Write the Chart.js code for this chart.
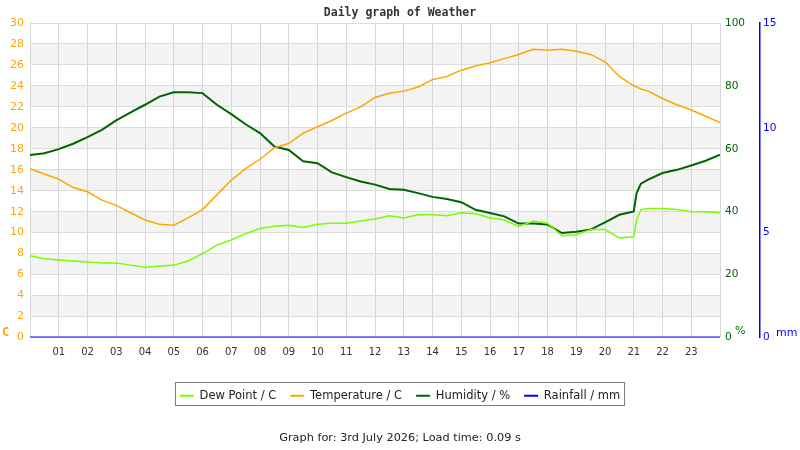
<!DOCTYPE html>
<html lang="en">
<head>
<meta charset="utf-8">
<title>Daily graph of Weather</title>
<script src="https://cdn.jsdelivr.net/npm/chart.js@4.4.1/dist/chart.umd.min.js"></script>
<style>
    html, body { margin: 0; padding: 0; background: #fff; }
    #wrap { width: 800px; height: 450px; }
</style>
</head>
<body>
<div id="wrap"><canvas id="weatherChart"></canvas></div>
<script>
// Hours of the day (x) and readings
const times = [0, 0.5, 1, 1.5, 2, 2.5, 3, 3.5, 4, 4.5, 5, 5.5, 6, 6.5, 7, 7.5, 8, 8.5, 9, 9.5,
    10, 10.5, 11, 11.5, 12, 12.5, 13, 13.5, 14, 14.5, 15, 15.5, 16, 16.5, 17, 17.5, 18, 18.5, 19, 19.5,
    20, 20.5, 21, 21.1, 21.25, 21.5, 22, 22.5, 23, 23.5, 24];
const dewPoint = [7.8, 7.5, 7.4, 7.3, 7.2, 7.1, 7.1, 6.9, 6.7, 6.8, 6.9, 7.3, 8.0, 8.8, 9.3, 9.9, 10.4, 10.6, 10.7, 10.5,
    10.8, 10.9, 10.9, 11.1, 11.3, 11.6, 11.4, 11.7, 11.7, 11.6, 11.9, 11.8, 11.4, 11.2, 10.6, 11.1, 10.9, 9.7, 9.8, 10.3,
    10.3, 9.5, 9.6, 11.2, 12.2, 12.3, 12.3, 12.2, 12.0, 12.0, 11.9];
const temperature = [16.1, 15.6, 15.1, 14.3, 13.9, 13.1, 12.6, 11.9, 11.2, 10.8, 10.7, 11.4, 12.2, 13.6, 15.0, 16.1, 17.0, 18.1, 18.5, 19.5,
    20.1, 20.7, 21.4, 22.0, 22.9, 23.3, 23.5, 23.9, 24.6, 24.9, 25.5, 25.9, 26.2, 26.6, 27.0, 27.5, 27.4, 27.5, 27.3, 27.0,
    26.3, 24.9, 24.0, 23.9, 23.7, 23.5, 22.8, 22.2, 21.7, 21.1, 20.5];
const humidity = [58.0, 58.6, 59.9, 61.6, 63.7, 66.0, 69.0, 71.6, 74.0, 76.6, 78.0, 78.0, 77.7, 74.0, 71.0, 67.8, 65.0, 60.7, 59.6, 56.0,
    55.4, 52.5, 51.0, 49.6, 48.6, 47.2, 47.0, 45.9, 44.7, 44.0, 43.0, 40.6, 39.6, 38.5, 36.2, 36.2, 35.9, 33.2, 33.6, 34.3,
    36.6, 39.0, 40.1, 45.9, 48.9, 50.2, 52.3, 53.3, 54.7, 56.2, 58.1];
const rainfall = [0, 0, 0, 0, 0, 0, 0, 0, 0, 0, 0, 0, 0, 0, 0, 0, 0, 0, 0, 0,
    0, 0, 0, 0, 0, 0, 0, 0, 0, 0, 0, 0, 0, 0, 0, 0, 0, 0, 0, 0,
    0, 0, 0, 0, 0, 0, 0, 0, 0, 0, 0];

const ORANGE = '#FFA500';
const DKGREEN = '#006400';
const LTGREEN = '#7CFC00';
const BLUE = '#0000FF';

Chart.defaults.font.family = '"DejaVu Sans", sans-serif';

// Grey stripes every other 2 C band
const bandsPlugin = {
    id: 'bands',
    beforeDraw(chart) {
        const { ctx, chartArea: a, scales: { y } } = chart;
        ctx.save();
        ctx.fillStyle = '#f3f3f3';
        for (let v = 2; v < 30; v += 4) {
            const top = y.getPixelForValue(v + 2);
            const bot = y.getPixelForValue(v);
            ctx.fillRect(a.left, top, a.right - a.left, bot - top);
        }
        ctx.restore();
    }
};

// Unit labels next to the axes and frame round the legend
const extrasPlugin = {
    id: 'extras',
    afterDraw(chart) {
        const { ctx, scales } = chart;
        const base = scales.y.bottom;
        ctx.save();
        ctx.textBaseline = 'middle';
        ctx.textAlign = 'left';
        ctx.font = 'bold 12px "DejaVu Sans Mono"';
        ctx.fillStyle = ORANGE;
        ctx.fillText('C', 2, base - 5);
        ctx.font = '11px "DejaVu Sans"';
        ctx.fillStyle = DKGREEN;
        ctx.fillText('%', scales.hum.left + 15, base - 6);
        ctx.fillStyle = BLUE;
        ctx.fillText('mm', scales.rain.left + 16, base - 4);

        const boxes = chart.legend.legendHitBoxes;
        if (boxes && boxes.length) {
            const l = Math.min(...boxes.map(b => b.left)) - 5;
            const r = Math.max(...boxes.map(b => b.left + b.width)) + 4;
            const t = boxes[0].top - 7.5;
            ctx.strokeStyle = '#808080';
            ctx.lineWidth = 1;
            ctx.strokeRect(Math.round(l) + 0.5, Math.round(t) + 0.5, Math.round(r - l), 23);
        }
        ctx.restore();
    }
};

document.addEventListener('DOMContentLoaded', () => {
    const canvas = document.getElementById('weatherChart');
    new Chart(canvas.getContext('2d'), {
        type: 'line',
        data: {
            labels: times,
            datasets: [
                { label: 'Dew Point / C', data: dewPoint, yAxisID: 'y', borderColor: LTGREEN, backgroundColor: LTGREEN, borderWidth: 1.5 },
                { label: 'Temperature / C', data: temperature, yAxisID: 'y', borderColor: ORANGE, backgroundColor: ORANGE, borderWidth: 1.5 },
                { label: 'Humidity / %', data: humidity, yAxisID: 'hum', borderColor: DKGREEN, backgroundColor: DKGREEN, borderWidth: 2 },
                { label: 'Rainfall / mm', data: rainfall, yAxisID: 'rain', borderColor: BLUE, backgroundColor: BLUE, borderWidth: 2 }
            ]
        },
        options: {
            responsive: true,
            maintainAspectRatio: false,
            animation: false,
            layout: { padding: 0 },
            elements: { point: { radius: 0 }, line: { tension: 0 } },
            plugins: {
                title: {
                    display: true,
                    text: 'Daily graph of Weather',
                    color: '#333',
                    font: { family: '"DejaVu Sans Mono", monospace', size: 11.5, weight: 'bold' },
                    padding: { top: 6, bottom: 3.2 }
                },
                legend: {
                    position: 'bottom',
                    labels: {
                        color: '#222',
                        font: { size: 11.5 },
                        boxWidth: 14,
                        boxHeight: 2,
                        padding: 14,
                        generateLabels(chart) {
                            const items = Chart.defaults.plugins.legend.labels.generateLabels(chart);
                            items.forEach(i => { i.lineWidth = 0; });
                            return items;
                        }
                    }
                },
                subtitle: {
                    display: true,
                    position: 'bottom',
                    text: 'Graph for: 3rd July 2026; Load time: 0.09 s',
                    color: '#222',
                    font: { size: 11.3, weight: 'normal' },
                    padding: { top: 20, bottom: 5 }
                },
                tooltip: { enabled: false }
            },
            scales: {
                x: {
                    type: 'linear',
                    min: 0,
                    max: 24,
                    afterFit: s => { s.height = 38.5; },
                    grid: { color: '#d6d6d6', drawTicks: false },
                    border: { display: false },
                    ticks: {
                        stepSize: 1,
                        autoSkip: false,
                        maxRotation: 0,
                        padding: 9,
                        color: '#333',
                        font: { size: 10 },
                        callback: v => (v > 0 && v < 24) ? String(v).padStart(2, '0') : ''
                    }
                },
                y: {
                    position: 'left',
                    min: 0,
                    max: 30,
                    afterFit: s => { s.width = 30; },
                    grid: { color: '#dcdcdc', drawTicks: false },
                    border: { display: false },
                    ticks: { stepSize: 2, color: ORANGE, padding: 6, font: { size: 11 } }
                },
                hum: {
                    position: 'right',
                    min: 0,
                    max: 100,
                    afterFit: s => { s.width = 40; },
                    grid: { display: false, drawTicks: false },
                    border: { display: false },
                    ticks: { stepSize: 20, color: DKGREEN, padding: 5, font: { size: 10.5 } }
                },
                rain: {
                    position: 'right',
                    min: 0,
                    max: 15,
                    afterFit: s => { s.width = 40; },
                    grid: { display: false, drawTicks: false },
                    border: { display: true, color: BLUE, width: 1.5 },
                    ticks: { stepSize: 5, color: BLUE, padding: 3, font: { size: 10.5 } }
                }
            }
        },
        plugins: [bandsPlugin, extrasPlugin]
    });
});
</script>
</body>
</html>
